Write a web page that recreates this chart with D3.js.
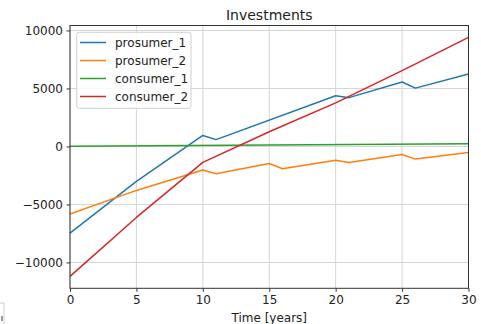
<!DOCTYPE html>
<html>
<head>
<meta charset="utf-8">
<script src="https://cdn.jsdelivr.net/npm/d3@7"></script>
<style>
  html, body { margin: 0; padding: 0; background: #fff; }
  svg { display: block; font-family: "DejaVu Sans", sans-serif; }
</style>
</head>
<body>
<svg id="chart" width="481" height="324"></svg>
<script>
// Cumulative investment balance per participant over the project lifetime
const seriesNames = ["prosumer_1", "prosumer_2", "consumer_1", "consumer_2"];
const colors = ["#1f77b4", "#ff7f0e", "#2ca02c", "#d62728"];

const prosumer1Years  = [0, 5, 10, 11, 20, 21, 25, 26, 30];
const prosumer1Values = [-7470, -3010, 950, 590, 4370, 4210, 5560, 5030, 6240];

const prosumer2Years  = [0, 5, 10, 11, 15, 16, 20, 21, 25, 26, 30];
const prosumer2Values = [-5830, -3790, -2030, -2350, -1470, -1920, -1180, -1380, -690, -1090, -520];

const consumer1Years  = [0, 30];
const consumer1Values = [20, 230];

const consumer2Years  = [0, 5, 10, 15, 20, 25, 30];
const consumer2Values = [-11200, -6120, -1370, 1270, 3760, 6540, 9400];

const xTicks = [0, 5, 10, 15, 20, 25, 30];
const yTicks = [-10000, -5000, 0, 5000, 10000];

const series = [
  { name: seriesNames[0], years: prosumer1Years, values: prosumer1Values, color: colors[0] },
  { name: seriesNames[1], years: prosumer2Years, values: prosumer2Values, color: colors[1] },
  { name: seriesNames[2], years: consumer1Years, values: consumer1Values, color: colors[2] },
  { name: seriesNames[3], years: consumer2Years, values: consumer2Values, color: colors[3] }
];

const svg = d3.select("#chart");
const W = 481, H = 324;
const m = { left: 70, top: 25.5, right: 12.5, bottom: 35.7 };

// y limits padded by 5% of the data span on each side
const allVals = series.flatMap(s => s.values);
const lo = d3.min(allVals), hi = d3.max(allVals), pad = (hi - lo) * 0.05;

const x = d3.scaleLinear().domain([0, 30]).range([m.left, W - m.right]);
const y = d3.scaleLinear().domain([lo - pad, hi + pad]).range([H - m.bottom, m.top]);

// grid
const grid = svg.append("g");
grid.selectAll(".gx").data(xTicks).join("line")
  .attr("x1", d => x(d)).attr("x2", d => x(d))
  .attr("y1", m.top).attr("y2", H - m.bottom)
  .attr("stroke", "#d5d5d5").attr("stroke-width", 1);
grid.selectAll(".gy").data(yTicks).join("line")
  .attr("x1", m.left).attr("x2", W - m.right)
  .attr("y1", d => y(d)).attr("y2", d => y(d))
  .attr("stroke", "#d5d5d5").attr("stroke-width", 1);

// lines
const line = d3.line().x(d => x(d[0])).y(d => y(d[1]));
svg.append("g").selectAll("path").data(series).join("path")
  .attr("d", s => line(s.years.map((t, i) => [t, s.values[i]])))
  .attr("fill", "none")
  .attr("stroke", s => s.color)
  .attr("stroke-width", 1.5)
  .attr("stroke-linejoin", "round");

// axes
const fmt = d => d < 0 ? "\u2212" + Math.abs(d) : String(d);
const xAxis = svg.append("g")
  .attr("transform", `translate(0,${H - m.bottom})`)
  .call(d3.axisBottom(x).tickValues(xTicks).tickSize(3.5).tickPadding(3.5).tickFormat(d => d));
const yAxis = svg.append("g")
  .attr("transform", `translate(${m.left},0)`)
  .call(d3.axisLeft(y).tickValues(yTicks).tickSize(3.5).tickPadding(3.5).tickFormat(fmt));
[xAxis, yAxis].forEach(a => {
  a.select(".domain").remove();
  a.selectAll("line").attr("stroke", "#333");
  a.selectAll("text").attr("font-size", 12).attr("fill", "#222")
    .attr("font-family", "DejaVu Sans, sans-serif");
});

// frame
svg.append("rect")
  .attr("x", m.left).attr("y", m.top)
  .attr("width", W - m.left - m.right).attr("height", H - m.top - m.bottom)
  .attr("fill", "none").attr("stroke", "#333").attr("stroke-width", 1);

// title and axis label
svg.append("text").attr("x", x(15)).attr("y", 20)
  .attr("text-anchor", "middle").attr("font-size", 14).attr("fill", "#222")
  .text("Investments");
svg.append("text").attr("x", x(15)).attr("y", 321.5)
  .attr("text-anchor", "middle").attr("font-size", 12).attr("fill", "#222")
  .text("Time [years]");

// legend
const lg = svg.append("g");
lg.append("rect")
  .attr("x", 76.7).attr("y", 32.3).attr("width", 114.3).attr("height", 76)
  .attr("rx", 2.5).attr("fill", "#fff").attr("fill-opacity", 0.85)
  .attr("stroke", "#d0d0d0").attr("stroke-width", 1);
const rows = lg.selectAll("g.row").data(series).join("g")
  .attr("transform", (d, i) => `translate(0,${42.5 + i * 18})`);
rows.append("line").attr("x1", 80).attr("x2", 106)
  .attr("stroke", d => d.color).attr("stroke-width", 1.5);
rows.append("text").attr("x", 115).attr("y", 4.3)
  .attr("font-size", 12).attr("fill", "#222").text(d => d.name);

// stray widget edge in the lower-left corner
svg.append("rect").attr("x", -2).attr("y", 303).attr("width", 6).attr("height", 26)
  .attr("fill", "#fff").attr("stroke", "#cfcfcf").attr("stroke-width", 1);
svg.append("rect").attr("x", 1).attr("y", 316).attr("width", 2).attr("height", 5)
  .attr("fill", "#9a9a9a");
</script>
</body>
</html>
